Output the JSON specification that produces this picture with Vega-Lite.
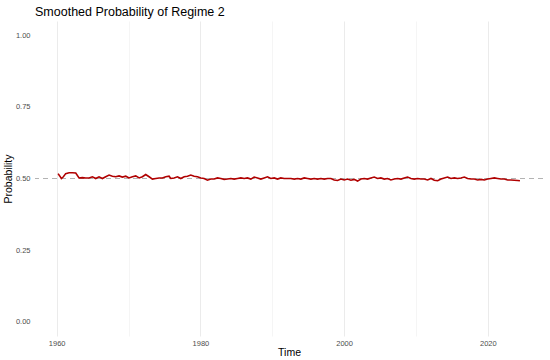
{
  "$schema": "https://vega.github.io/schema/vega-lite/v6.json",
  "autosize": "none",
  "width": 508,
  "height": 315,
  "padding": {"left": 35, "top": 21, "right": 7, "bottom": 24},
  "background": "white",
  "config": {
    "view": {"stroke": null},
    "font": "Liberation Sans",
    "axis": {"domain": false, "ticks": false, "labelColor": "#4d4d4d", "labelFontSize": 7.5, "titleColor": "#000000", "titleFontSize": 10.5, "titleFontWeight": "normal", "gridColor": "#ebebeb"}
  },
  "title": {"text": "Smoothed Probability of Regime 2", "anchor": "start", "frame": "group", "fontSize": 12.5, "fontWeight": "normal", "color": "#000000", "offset": 3},
  "data": {"values": [
    {"t": 1960.19, "p": 0.517}, {"t": 1960.42, "p": 0.509}, {"t": 1960.65, "p": 0.500}, {"t": 1960.93, "p": 0.506},
    {"t": 1961.25, "p": 0.517}, {"t": 1961.72, "p": 0.520}, {"t": 1962.18, "p": 0.520}, {"t": 1962.65, "p": 0.519},
    {"t": 1963.11, "p": 0.502}, {"t": 1963.57, "p": 0.503}, {"t": 1964.04, "p": 0.502}, {"t": 1964.50, "p": 0.502},
    {"t": 1964.97, "p": 0.506}, {"t": 1965.43, "p": 0.500}, {"t": 1965.89, "p": 0.506}, {"t": 1966.36, "p": 0.500},
    {"t": 1966.82, "p": 0.506}, {"t": 1967.29, "p": 0.512}, {"t": 1967.75, "p": 0.508}, {"t": 1968.22, "p": 0.506},
    {"t": 1968.68, "p": 0.509}, {"t": 1969.14, "p": 0.505}, {"t": 1969.61, "p": 0.508}, {"t": 1970.07, "p": 0.502},
    {"t": 1970.54, "p": 0.506}, {"t": 1971.00, "p": 0.509}, {"t": 1971.47, "p": 0.502}, {"t": 1971.93, "p": 0.506},
    {"t": 1972.39, "p": 0.514}, {"t": 1972.86, "p": 0.506}, {"t": 1973.32, "p": 0.498}, {"t": 1973.79, "p": 0.500},
    {"t": 1974.25, "p": 0.502}, {"t": 1974.71, "p": 0.502}, {"t": 1975.18, "p": 0.506}, {"t": 1975.64, "p": 0.508},
    {"t": 1975.88, "p": 0.500}, {"t": 1976.34, "p": 0.502}, {"t": 1976.81, "p": 0.506}, {"t": 1977.27, "p": 0.500},
    {"t": 1977.74, "p": 0.506}, {"t": 1978.20, "p": 0.508}, {"t": 1978.66, "p": 0.512}, {"t": 1979.13, "p": 0.508},
    {"t": 1979.59, "p": 0.506}, {"t": 1980.06, "p": 0.502}, {"t": 1980.52, "p": 0.500}, {"t": 1980.98, "p": 0.494},
    {"t": 1981.45, "p": 0.498}, {"t": 1981.91, "p": 0.498}, {"t": 1982.38, "p": 0.502}, {"t": 1982.84, "p": 0.500},
    {"t": 1983.30, "p": 0.497}, {"t": 1983.77, "p": 0.498}, {"t": 1984.23, "p": 0.500}, {"t": 1984.70, "p": 0.498},
    {"t": 1985.16, "p": 0.500}, {"t": 1985.63, "p": 0.502}, {"t": 1986.09, "p": 0.500}, {"t": 1986.55, "p": 0.502},
    {"t": 1987.02, "p": 0.498}, {"t": 1987.48, "p": 0.505}, {"t": 1987.95, "p": 0.502}, {"t": 1988.41, "p": 0.498},
    {"t": 1988.87, "p": 0.502}, {"t": 1989.34, "p": 0.506}, {"t": 1989.80, "p": 0.500}, {"t": 1990.27, "p": 0.502},
    {"t": 1990.73, "p": 0.498}, {"t": 1991.19, "p": 0.502}, {"t": 1991.66, "p": 0.500}, {"t": 1992.12, "p": 0.500},
    {"t": 1992.59, "p": 0.500}, {"t": 1993.06, "p": 0.498}, {"t": 1993.52, "p": 0.500}, {"t": 1993.98, "p": 0.498},
    {"t": 1994.45, "p": 0.502}, {"t": 1994.91, "p": 0.500}, {"t": 1995.38, "p": 0.498}, {"t": 1995.84, "p": 0.500},
    {"t": 1996.30, "p": 0.498}, {"t": 1996.77, "p": 0.500}, {"t": 1997.23, "p": 0.498}, {"t": 1997.70, "p": 0.500},
    {"t": 1998.16, "p": 0.500}, {"t": 1998.62, "p": 0.495}, {"t": 1999.09, "p": 0.493}, {"t": 1999.55, "p": 0.498},
    {"t": 2000.02, "p": 0.495}, {"t": 2000.48, "p": 0.498}, {"t": 2000.94, "p": 0.494}, {"t": 2001.41, "p": 0.497},
    {"t": 2001.87, "p": 0.491}, {"t": 2002.34, "p": 0.498}, {"t": 2002.80, "p": 0.500}, {"t": 2003.26, "p": 0.498},
    {"t": 2003.73, "p": 0.502}, {"t": 2004.19, "p": 0.505}, {"t": 2004.66, "p": 0.500}, {"t": 2005.12, "p": 0.502},
    {"t": 2005.59, "p": 0.498}, {"t": 2006.05, "p": 0.500}, {"t": 2006.51, "p": 0.495}, {"t": 2006.98, "p": 0.498},
    {"t": 2007.44, "p": 0.500}, {"t": 2007.91, "p": 0.498}, {"t": 2008.37, "p": 0.502}, {"t": 2008.83, "p": 0.505},
    {"t": 2009.30, "p": 0.500}, {"t": 2009.76, "p": 0.498}, {"t": 2010.23, "p": 0.500}, {"t": 2010.70, "p": 0.498},
    {"t": 2011.16, "p": 0.498}, {"t": 2011.62, "p": 0.495}, {"t": 2012.09, "p": 0.500}, {"t": 2012.55, "p": 0.494},
    {"t": 2013.02, "p": 0.492}, {"t": 2013.48, "p": 0.498}, {"t": 2013.94, "p": 0.502}, {"t": 2014.41, "p": 0.505},
    {"t": 2014.87, "p": 0.500}, {"t": 2015.34, "p": 0.502}, {"t": 2015.80, "p": 0.500}, {"t": 2016.26, "p": 0.502},
    {"t": 2016.73, "p": 0.505}, {"t": 2017.19, "p": 0.500}, {"t": 2017.66, "p": 0.498}, {"t": 2018.12, "p": 0.498},
    {"t": 2018.58, "p": 0.495}, {"t": 2019.05, "p": 0.497}, {"t": 2019.51, "p": 0.495}, {"t": 2019.98, "p": 0.498},
    {"t": 2020.44, "p": 0.500}, {"t": 2020.90, "p": 0.502}, {"t": 2021.37, "p": 0.500}, {"t": 2021.83, "p": 0.498},
    {"t": 2022.30, "p": 0.498}, {"t": 2022.76, "p": 0.495}, {"t": 2023.22, "p": 0.495}, {"t": 2023.69, "p": 0.494},
    {"t": 2024.15, "p": 0.493}, {"t": 2024.47, "p": 0.492}
  ]},
  "layer": [
    {
      "mark": {"type": "rule", "color": "#b3b3b3", "strokeDash": [5, 4], "strokeWidth": 1},
      "encoding": {"y": {"datum": 0.5, "type": "quantitative"}}
    },
    {
      "mark": {"type": "line", "color": "#b00000", "strokeWidth": 1.6, "interpolate": "linear"},
      "encoding": {
        "x": {"field": "t", "type": "quantitative", "title": "Time",
          "scale": {"domain": [1956.98, 2027.68], "nice": false, "zero": false},
          "axis": {"values": [1960, 1970, 1980, 1990, 2000, 2010, 2020], "format": "d",
            "labelExpr": "datum.value % 20 === 0 ? datum.label : ''",
            "gridWidth": {"condition": {"test": "datum.value % 20 === 0", "value": 1}, "value": 0.5},
            "labelPadding": 3, "titlePadding": 1}},
        "y": {"field": "p", "type": "quantitative", "title": "Probability",
          "scale": {"domain": [-0.05, 1.05], "nice": false, "zero": false},
          "axis": {"values": [0, 0.125, 0.25, 0.375, 0.5, 0.625, 0.75, 0.875, 1], "format": ".2f",
            "labelExpr": "datum.value * 4 % 1 === 0 ? datum.label : ''",
            "gridWidth": {"condition": {"test": "datum.value * 4 % 1 === 0", "value": 1}, "value": 0.5},
            "labelPadding": 5, "titlePadding": 2}}
      }
    }
  ]
}
